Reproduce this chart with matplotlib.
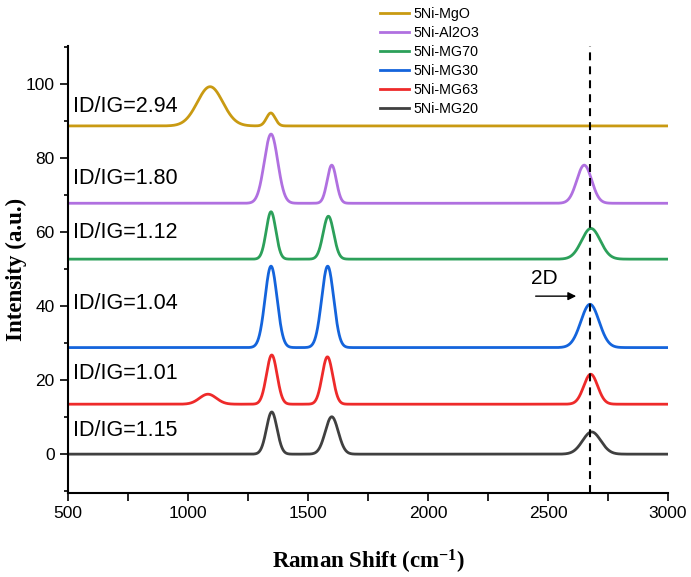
import numpy as np
import matplotlib
matplotlib.use('Agg')
import matplotlib.pyplot as plt

plt.rcParams['font.family'] = 'Liberation Sans'
plt.rcParams['mathtext.fontset'] = 'custom'
plt.rcParams['mathtext.rm'] = 'Liberation Serif:bold'
plt.rcParams['mathtext.bf'] = 'Liberation Serif:bold'
plt.rcParams['mathtext.it'] = 'Liberation Serif:bold'

## samples, top to bottom
samples = ['5Ni-MgO', '5Ni-Al2O3', '5Ni-MG70', '5Ni-MG30', '5Ni-MG63', '5Ni-MG20']
colors = ['#C99A12', '#B070E0', '#2CA05A', '#1464DC', '#EE2A2A', '#404040']
ratios = ['2.94', '1.80', '1.12', '1.04', '1.01', '1.15']

## stacked offsets and fitted peaks (cm-1, a.u.)
baselines = [88.7, 67.8, 52.7, 28.8, 13.5, 0.0]
peak_centers = [[1092, 1345], [1346, 1599, 2651], [1346, 1585, 2679],
                [1346, 1582, 2675], [1083, 1349, 1581, 2678], [1349, 1599, 2682]]
peak_heights = [[10.6, 3.5], [18.7, 10.3, 10.3], [12.8, 11.6, 8.3],
                [22.0, 22.0, 11.7], [2.7, 13.3, 12.8, 8.1], [11.4, 10.1, 6.0]]
peak_sigmas = [[53, 18], [28, 19, 31], [20, 22, 39],
               [25, 25, 38], [35, 22, 22, 29], [22, 27, 38]]
pos_2d = 2676

shift = np.linspace(500, 3000, 2501)

fig = plt.figure(figsize=(6.91, 5.77), dpi=100)
ax = fig.add_axes([68/691, 1-493/577, 600/691, 447/577])

for name, col, base, cs, hs, ss in zip(samples, colors, baselines, peak_centers, peak_heights, peak_sigmas):
    y = np.full_like(shift, base)
    for c, h, s in zip(cs, hs, ss):
        y += h*np.exp(-0.5*((shift-c)/s)**2)
    ax.plot(shift, y, color=col, lw=2, label=name)

## ratio labels
label_y = [94.0, 74.6, 60.0, 40.8, 21.9, 6.5]
for r, ly in zip(ratios, label_y):
    ax.text(520, ly, 'ID/IG=' + r, fontsize=15.5, va='center', ha='left')

ax.axvline(pos_2d, color='black', lw=1.5, linestyle=(0, (3.8, 2.9)))
ax.annotate('', xy=(2629, 42.7), xytext=(2437, 42.7),
            arrowprops=dict(arrowstyle='-|>', color='black', lw=1, mutation_scale=12))
ax.text(2483, 47.6, '2D', fontsize=15, ha='center', va='center')

ax.set_xlim(500, 3000)
ax.set_ylim(-10.5, 110.3)
ax.set_xticks(np.arange(500, 3001, 500))
ax.set_xticks(np.arange(750, 3000, 500), minor=True)
ax.set_yticks(np.arange(0, 101, 20))
ax.set_yticks(np.arange(-10, 111, 20), minor=True)
ax.tick_params(axis='both', which='major', labelsize=12.5, width=1.2, length=6)
ax.tick_params(axis='x', which='minor', width=1.2, length=6)
ax.tick_params(axis='y', which='minor', width=1.2, length=3)
for side in ['top', 'right']:
    ax.spines[side].set_visible(False)
for side in ['left', 'bottom']:
    ax.spines[side].set_linewidth(1.5)

ax.set_xlabel('Raman Shift (cm$^{-1}$)', fontsize=16.5, fontweight='bold', family='Liberation Serif')
ax.set_ylabel('Intensity (a.u.)', fontsize=16.5, fontweight='bold', family='Liberation Serif')
ax.xaxis.set_label_coords(0.5, -0.123)
ax.yaxis.set_label_coords(-0.068, 0.5)

fig.legend(loc='upper left', bbox_to_anchor=(380/691, 1-7/577), frameon=False,
           fontsize=10.3, handlelength=2.0, handletextpad=0.35, labelspacing=0.35,
           borderpad=0, borderaxespad=0)

plt.savefig('out.png', dpi=100)
